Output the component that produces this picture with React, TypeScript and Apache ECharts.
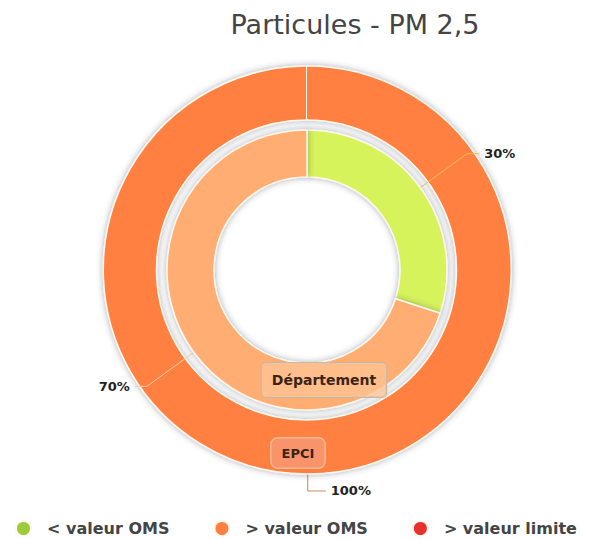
import React, { useEffect, useRef } from "react";
import * as echarts from "echarts";

const titleText = "Particules - PM 2,5";
const legendNames = ["< valeur OMS", "> valeur OMS", "> valeur limite"];
const legendColors = ["#9ccc3c", "#ff8040", "#e8302c"];
const innerName = "Département";
const innerCategories = ["< valeur OMS", "> valeur OMS"];
const innerValues = [30, 70];
const innerColors = ["#d6f35c", "#ffad72"];
const outerName = "EPCI";
const outerCategories = ["> valeur OMS", "> valeur limite"];
const outerValues = [100, 0];
const outerColors = ["#ff8040", "#e8302c"];

export default function App() {
  const ref = useRef<HTMLDivElement>(null);
  useEffect(() => {
    if (!ref.current) return;
    const chart = echarts.init(ref.current, undefined, { renderer: "svg" });
    const font = "DejaVu Sans, Verdana, sans-serif";
    const labelStyle = {
      fontFamily: font,
      fontSize: 13,
      fontWeight: "bold" as const,
      color: "#222",
      textBorderColor: "#fff",
      textBorderWidth: 2,
    };
    const shadow = {
      borderColor: "#fff8ec",
      borderWidth: 1.5,
      shadowBlur: 6,
      shadowColor: "rgba(60,70,90,0.45)",
    };
    chart.setOption({
      animation: false,
      title: {
        text: titleText,
        left: 350,
        textAlign: "center",
        top: 6,
        textStyle: { fontFamily: font, fontSize: 27, fontWeight: "normal", color: "#444" },
      },
      legend: {
        data: legendNames.map((n, i) => ({ name: n, itemStyle: { color: legendColors[i] } })),
        left: 10,
        top: 515,
        icon: "circle",
        itemWidth: 15,
        itemHeight: 15,
        itemGap: 44,
        selectedMode: false,
        textStyle: {
          fontFamily: font,
          fontSize: 16,
          fontWeight: "bold",
          color: "#444",
          padding: [0, 0, 0, 11],
        },
      },
      series: [
        {
          type: "pie",
          name: outerName,
          z: 2,
          center: [307, 270],
          radius: [150, 204],
          startAngle: 90.2,
          clockwise: true,
          avoidLabelOverlap: false,
          label: { ...labelStyle, formatter: (p: any) => p.value + "%" },
          labelLine: { length: 17, length2: 18, lineStyle: { color: "#c8865a", width: 1 } },
          itemStyle: shadow,
          data: outerCategories.map((n, i) => ({
            name: n,
            value: outerValues[i],
            itemStyle: { color: outerColors[i] },
            label: { show: outerValues[i] > 0 },
            labelLine: { show: outerValues[i] > 0 },
          })),
        },
        {
          type: "pie",
          name: innerName,
          z: 5,
          center: [307, 270],
          radius: [93, 140],
          startAngle: 90,
          clockwise: true,
          avoidLabelOverlap: false,
          label: { ...labelStyle, formatter: (p: any) => p.value + "%" },
          labelLine: { length: 58, length2: 12, lineStyle: { color: "#f3c04a", width: 1 } },
          itemStyle: shadow,
          data: innerCategories.map((n, i) => ({
            name: n,
            value: innerValues[i],
            itemStyle: { color: innerColors[i] },
            labelLine: i === 1 ? { lineStyle: { color: "#fbd0a0" } } : undefined,
          })),
        },
      ],
      graphic: [
        {
          type: "text",
          x: 324,
          y: 380,
          z: 100,
          style: {
            text: innerName,
            font: "bold 14px DejaVu Sans, Verdana, sans-serif",
            fill: "#3a2418",
            align: "center",
            verticalAlign: "middle",
            backgroundColor: "rgba(255,196,150,0.75)",
            borderColor: "#c9b6a6",
            borderWidth: 1,
            borderRadius: 4,
            padding: [10, 10],
          },
        },
        {
          type: "text",
          x: 298,
          y: 453,
          z: 100,
          style: {
            text: outerName,
            font: "bold 13px DejaVu Sans, Verdana, sans-serif",
            fill: "#3a2418",
            align: "center",
            verticalAlign: "middle",
            backgroundColor: "#f9946a",
            borderColor: "#f5b895",
            borderWidth: 1.5,
            borderRadius: 6,
            padding: [8, 10],
          },
        },
      ],
    });
    return () => chart.dispose();
  }, []);
  return (
    <div
      ref={ref}
      style={{ position: "fixed", left: 0, top: 0, width: 591, height: 539, background: "#fff" }}
    />
  );
}
